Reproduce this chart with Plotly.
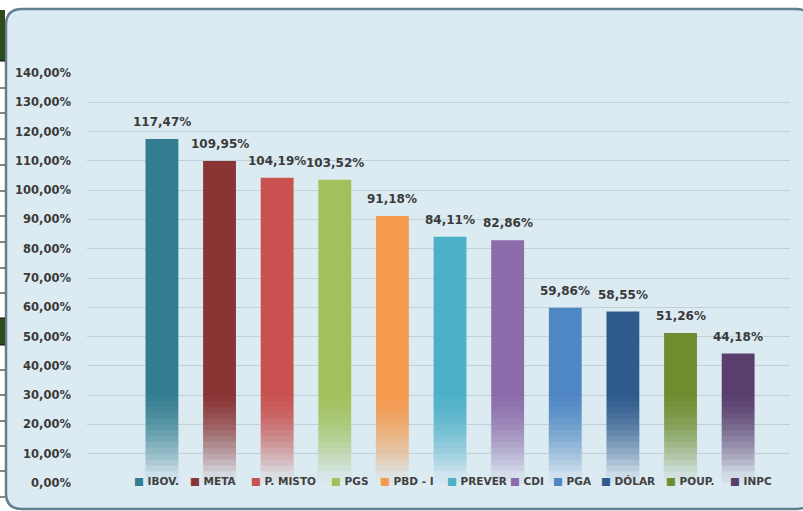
import plotly.graph_objects as go

categories = ["IBOV.", "META", "P. MISTO", "PGS", "PBD - I", "PREVER", "CDI", "PGA", "DÓLAR", "POUP.", "INPC"]
values = [117.47, 109.95, 104.19, 103.52, 91.18, 84.11, 82.86, 59.86, 58.55, 51.26, 44.18]
colors = ["#337d91", "#8a3434", "#c9514f", "#a2c15c", "#f5994c", "#4cb0c9",
          "#8c6bab", "#4f87c4", "#2f5b8c", "#6f8d2e", "#5a3e6d"]
y_ticks = [0, 10, 20, 30, 40, 50, 60, 70, 80, 90, 100, 110, 120, 130, 140]

W, H = 803, 511
L, R, T, B = 87, 13, 73, 28
PW, PH = W - L - R, H - T - B
BG = "#dcebf2"
BAR_W = 0.57


def px(x):
    return (x - L) / PW


def py(y):
    return (H - B - y) / PH


def label(v):
    return f"{v:.2f}".replace(".", ",") + "%"


fig = go.Figure()
for cat, val, col in zip(categories, values, colors):
    fig.add_trace(go.Bar(
        x=[cat], y=[val], name=cat, marker=dict(color=col, line=dict(width=0)),
        width=BAR_W, showlegend=False, hoverinfo="x+y",
    ))

annotations = []
for cat, val in zip(categories, values):
    annotations.append(dict(
        x=cat, y=val, xref="x", yref="y", text=label(val), showarrow=False,
        yanchor="bottom", xanchor="center", yshift=8,
        font=dict(family="DejaVu Sans", size=12, color="#3a3a3a", weight=700),
    ))

# legend drawn as text entries
legend_left_px = [132, 188, 249, 329, 378, 445, 508, 551, 599, 664, 728]
for cat, col, lx in zip(categories, colors, legend_left_px):
    annotations.append(dict(
        x=px(lx), y=py(481), xref="paper", yref="paper", xanchor="left", yanchor="middle",
        text=f'<span style="color:{col}">■</span> {cat}', showarrow=False,
        font=dict(family="DejaVu Sans", size=10.5, color="#404040", weight=700),
    ))

shapes = []
# outer frame with rounded corners
x0, x1 = px(6), px(812)
y0, y1 = py(9), py(509)
rx, ry = 16 / PW, 16 / PH
path = (f"M {x0+rx},{y0} L {x1-rx},{y0} Q {x1},{y0} {x1},{y0-ry} "
        f"L {x1},{y1+ry} Q {x1},{y1} {x1-rx},{y1} L {x0+rx},{y1} Q {x0},{y1} {x0},{y1+ry} "
        f"L {x0},{y0-ry} Q {x0},{y0} {x0+rx},{y0} Z")
shapes.append(dict(type="path", path=path, xref="paper", yref="paper",
                   fillcolor=BG, line=dict(color="#62808f", width=2.5), layer="below"))

# spreadsheet remnants at the left edge
shapes.append(dict(type="rect", xref="paper", yref="paper", x0=px(0), x1=px(5), y0=py(10), y1=py(61),
                   fillcolor="#2f4a1c", line=dict(width=0), layer="below"))
shapes.append(dict(type="rect", xref="paper", yref="paper", x0=px(0), x1=px(5), y0=py(318), y1=py(345),
                   fillcolor="#2f4a1c", line=dict(width=0), layer="below"))
for ly in [61, 88, 113, 139, 165, 191, 216, 242, 268, 293, 318, 345, 370, 395, 421, 446, 471, 497]:
    shapes.append(dict(type="line", xref="paper", yref="paper", x0=px(0), x1=px(5), y0=py(ly), y1=py(ly),
                       line=dict(color="#111111", width=1), layer="below"))

# smooth fade of each bar toward the bottom (nested translucent overlays on the bar only)
n = 16
top = 32.0
opac = []
trans_next = 1.0
for k in range(n, 0, -1):
    mid = top * (k - 0.5) / n
    target = min(0.94, 1.05 * ((top - mid) / top) ** 1.5)
    trans = 1.0 - target
    opac.append((k, max(0.0, 1.0 - trans / trans_next)))
    trans_next = trans
for i in range(len(categories)):
    for k, o in opac:
        shapes.append(dict(type="rect", xref="x", yref="y",
                           x0=i - BAR_W / 2 - 0.01, x1=i + BAR_W / 2 + 0.01,
                           y0=-2, y1=top * k / n,
                           fillcolor=BG, opacity=o, line=dict(width=0), layer="above"))

fig.update_layout(
    width=W, height=H,
    margin=dict(l=L, r=R, t=T, b=B),
    paper_bgcolor="white",
    plot_bgcolor="rgba(0,0,0,0)",
    barmode="overlay",
    showlegend=False,
    shapes=shapes,
    annotations=annotations,
    xaxis=dict(type="category", range=[-1.30, 10.90], showticklabels=False,
               showgrid=False, zeroline=False, showline=False, fixedrange=True),
    yaxis=dict(range=[0, 140], tickmode="array", tickvals=y_ticks, ticktext=[label(v) for v in y_ticks],
               showgrid=True, gridcolor="#bfd0d8", gridwidth=1, zeroline=False, showline=False,
               ticks="", ticklabelstandoff=15, automargin=False,
               tickfont=dict(family="DejaVu Sans", size=11.5, color="#3a3a3a", weight=700)),
)

fig.write_html("out.html", config={"displayModeBar": False},
               post_script="document.body.style.margin='0px';")
